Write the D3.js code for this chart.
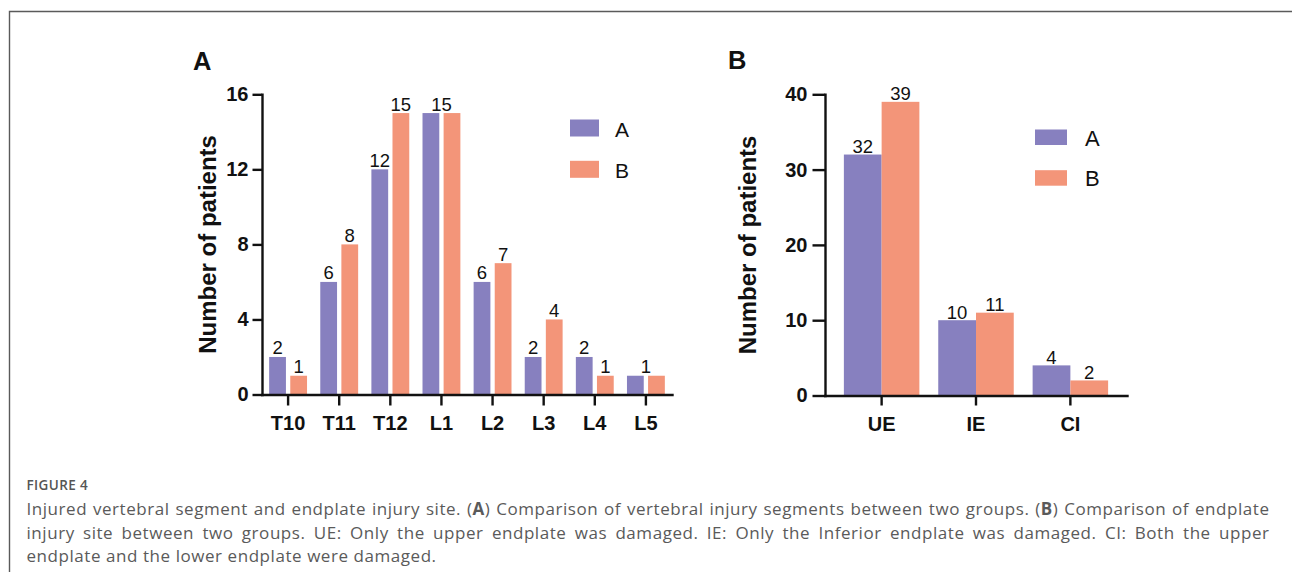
<!DOCTYPE html>
<html>
<head>
<meta charset="utf-8">
<script src="https://cdn.jsdelivr.net/npm/d3@7"></script>
<style>
  html, body { margin: 0; padding: 0; background: #fff; }
  svg { display: block; }
  .chart text { font-family: "Liberation Sans", Arial, sans-serif; fill: #111; }
  .cap text { font-family: "Open Sans", sans-serif; }
</style>
</head>
<body>
<svg id="fig" width="1292" height="572"></svg>
<script>
// ---------- data ----------
const seriesNames = ["A", "B"];
const segments = ["T10", "T11", "T12", "L1", "L2", "L3", "L4", "L5"];
const segGroupA = [2, 6, 12, 15, 6, 2, 2, 1];
const segGroupB = [1, 8, 15, 15, 7, 4, 1, 1];
const segTicks = [0, 4, 8, 12, 16];
const sites = ["UE", "IE", "CI"];
const siteGroupA = [32, 10, 4];
const siteGroupB = [39, 11, 2];
const siteTicks = [0, 10, 20, 30, 40];
const yTitle = "Number of patients";
const figureLabel = "FIGURE 4";
const captionLines = [
  "Injured vertebral segment and endplate injury site. (A) Comparison of vertebral injury segments between two groups. (B) Comparison of endplate",
  "injury site between two groups. UE: Only the upper endplate was damaged. IE: Only the Inferior endplate was damaged. CI: Both the upper",
  "endplate and the lower endplate were damaged."
];

const colors = { A: "#8780bf", B: "#f39579" };

const svg = d3.select("#fig");

// frame
svg.append("path")
  .attr("d", "M9.5,572 V11.5 H1292")
  .attr("fill", "none").attr("stroke", "#5a5a5a").attr("stroke-width", 1.4);

function panel(cfg) {
  const g = svg.append("g").attr("class", "chart");
  const x = d3.scaleBand().domain(cfg.cats).range(cfg.xRange)
    .paddingInner(cfg.padIn).paddingOuter(cfg.padOut);
  const xi = d3.scaleBand().domain(seriesNames).range([0, x.bandwidth()]).paddingInner(cfg.barGap);
  const y = d3.scaleLinear().domain([0, cfg.ticks[cfg.ticks.length - 1]]).range(cfg.yRange);

  const rows = cfg.cats.map((c, i) => ({ cat: c, A: cfg.a[i], B: cfg.b[i] }));
  const grp = g.selectAll("g.grp").data(rows).join("g")
    .attr("transform", d => `translate(${x(d.cat)},0)`);
  grp.selectAll("rect").data(d => seriesNames.map(s => ({ s, v: d[s] }))).join("rect")
    .attr("x", d => xi(d.s)).attr("width", xi.bandwidth())
    .attr("y", d => y(d.v)).attr("height", d => y(0) - y(d.v))
    .attr("fill", d => colors[d.s]);
  // value labels: equal pairs share one label centred on the group
  grp.selectAll("text.val")
    .data(d => d.A === d.B
      ? [{ cx: x.bandwidth() / 2, v: d.A }]
      : seriesNames.map(s => ({ cx: xi(s) + xi.bandwidth() / 2, v: d[s] })))
    .join("text")
    .attr("class", "val")
    .attr("x", d => d.cx)
    .attr("y", d => y(d.v) - cfg.valGap)
    .attr("text-anchor", "middle")
    .style("font-size", cfg.valSize + "px")
    .text(d => d.v);

  // axes
  const yAx = g.append("g").attr("transform", `translate(${cfg.xRange[0]},0)`)
    .call(d3.axisLeft(y).tickValues(cfg.ticks).tickSize(cfg.yTick).tickSizeOuter(0).tickPadding(cfg.yPad));
  const xAx = g.append("g").attr("transform", `translate(0,${cfg.yRange[0]})`)
    .call(d3.axisBottom(x).tickSize(cfg.xTick).tickSizeOuter(0).tickPadding(cfg.xPad));
  [yAx, xAx].forEach(a => {
    a.select(".domain").attr("stroke", "#111").attr("stroke-width", 2.4).attr("stroke-linecap", "square");
    a.selectAll(".tick line").attr("stroke", "#111").attr("stroke-width", 2.4);
    a.selectAll(".tick text").attr("fill", "#111")
      .style("font-family", '"Liberation Sans", Arial, sans-serif')
      .style("font-weight", "bold").style("font-size", "20px");
  });

  // y title
  g.append("text")
    .attr("transform", `translate(${cfg.titleX},${(cfg.yRange[0] + cfg.yRange[1]) / 2}) rotate(-90)`)
    .attr("text-anchor", "middle").attr("dominant-baseline", "central")
    .style("font-weight", "bold").style("font-size", "24px")
    .text(yTitle);

  // panel letter
  g.append("text").attr("x", cfg.letterX).attr("y", cfg.letterY)
    .style("font-weight", "bold").style("font-size", "25.5px").text(cfg.letter);

  // legend
  const leg = g.selectAll("g.leg").data(seriesNames).join("g")
    .attr("transform", (d, i) => `translate(${cfg.legX},${cfg.legY + i * cfg.legStep})`);
  leg.append("rect").attr("width", cfg.legW).attr("height", cfg.legH).attr("fill", d => colors[d]);
  leg.append("text").attr("x", cfg.legTextX).attr("y", cfg.legH / 2 + 1)
    .attr("dominant-baseline", "central").style("font-size", cfg.legSize + "px").text(d => d);
}

panel({
  cats: segments, a: segGroupA, b: segGroupB, ticks: segTicks,
  xRange: [262, 672], padIn: 0.259, padOut: 0.14, barGap: 0.205,
  yRange: [394.5, 94.3], yTick: 9.5, yPad: 4, xTick: 11, xPad: 10,
  valGap: 2.5, valSize: 18.5,
  titleX: 207, letter: "A", letterX: 193, letterY: 70,
  legX: 570, legY: 119.5, legStep: 41.3, legW: 29, legH: 17, legTextX: 45, legSize: 21
});

panel({
  cats: sites, a: siteGroupA, b: siteGroupB, ticks: siteTicks,
  xRange: [825, 1127], padIn: 0.2, padOut: 0.2, barGap: 0,
  yRange: [395.5, 94.3], yTick: 12.5, yPad: 5, xTick: 10, xPad: 11,
  valGap: 1.5, valSize: 18.5,
  titleX: 747, letter: "B", letterX: 728, letterY: 68.5,
  legX: 1035, legY: 129.5, legStep: 40.7, legW: 32, legH: 15.5, legTextX: 50, legSize: 22
});

// ---------- caption ----------
const cap = svg.append("g").attr("class", "cap");
cap.append("text").attr("x", 26.5).attr("y", 489.5)
  .style("font-size", "13.5px").style("font-weight", 600).style("letter-spacing", "0.4px")
  .attr("fill", "#555")
  .text(figureLabel);

const capX0 = 26.5, capX1 = 1269.5, capY0 = 515, capLH = 23.5;
captionLines.forEach((line, li) => {
  const words = line.split(" ");
  const y = capY0 + li * capLH;
  const nodes = words.map(w => {
    const t = cap.append("text").attr("y", y).attr("fill", "#5a5a5a")
      .style("font-size", "17px").style("letter-spacing", "0.55px");
    const m = w.match(/^\(([AB])\)(.*)$/);
    if (m) {
      t.append("tspan").text("(");
      t.append("tspan").style("font-weight", 700).text(m[1]);
      t.append("tspan").text(")" + m[2]);
    } else {
      t.text(w);
    }
    return t;
  });
  const widths = nodes.map(n => n.node().getComputedTextLength());
  const total = d3.sum(widths);
  const isLast = li === captionLines.length - 1;
  const spaceW = 5;
  const gap = isLast ? spaceW : (capX1 - capX0 - total) / (words.length - 1);
  let cx = capX0;
  nodes.forEach((n, i) => { n.attr("x", cx); cx += widths[i] + gap; });
});
</script>
</body>
</html>
